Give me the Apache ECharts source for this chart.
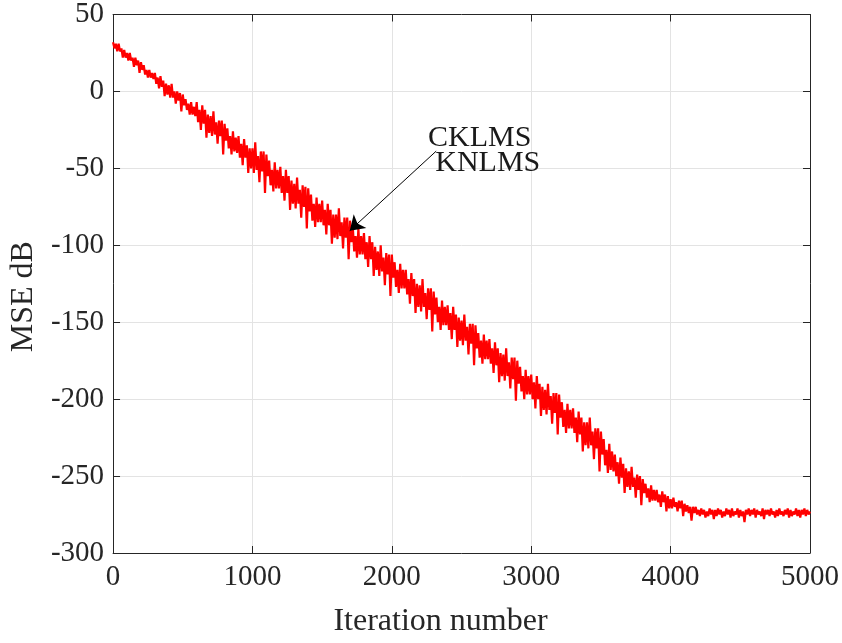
<!DOCTYPE html>
<html>
<head>
<meta charset="utf-8">
<script src="https://cdn.jsdelivr.net/npm/echarts@6/dist/echarts.min.js"></script>
<style>
html,body{margin:0;padding:0;background:#fff;overflow:hidden;width:100%;height:100%;}
#chart{width:842px;height:643px;}
</style>
</head>
<body>
<div id="chart"></div>
<script>
// ---- data ----
const iterationStep = 10; // one sample every 10 iterations
const xTicks = [0, 1000, 2000, 3000, 4000, 5000];
const yTicks = [-300, -250, -200, -150, -100, -50, 0, 50];
const mseDb = [
  32, 28, 31, 26, 31, 26, 28, 22, 27, 22,
  25, 20, 25, 20, 22, 16, 22, 17, 20, 12,
  19, 14, 17, 11, 14, 9, 14, 9, 12, 8,
  12, 5, 9, 2, 10, 3, 7, -3, 5, -2,
  4, -4, 5, -4, 0, -8, 0, -6, -1, -13,
  -2, -9, -5, -12, -8, -15, -7, -15, -10, -16,
  -7, -20, -12, -25, -9, -21, -12, -30, -15, -27,
  -16, -29, -13, -28, -20, -34, -19, -29, -19, -41,
  -21, -32, -24, -37, -29, -41, -26, -39, -30, -40,
  -29, -43, -34, -48, -31, -43, -35, -53, -37, -50,
  -37, -53, -33, -51, -42, -59, -39, -52, -39, -66,
  -41, -55, -45, -61, -51, -65, -46, -63, -51, -63,
  -49, -66, -55, -71, -51, -66, -55, -77, -58, -73,
  -60, -76, -56, -73, -64, -82, -61, -75, -62, -89,
  -63, -78, -67, -84, -73, -88, -69, -85, -73, -85,
  -71, -87, -77, -93, -73, -87, -77, -99, -80, -95,
  -80, -96, -76, -94, -85, -102, -82, -95, -82, -109,
  -84, -98, -88, -104, -94, -108, -89, -106, -94, -106,
  -92, -109, -98, -114, -94, -109, -98, -120, -101, -116,
  -104, -120, -100, -117, -108, -126, -105, -119, -106, -133,
  -106, -121, -111, -127, -116, -131, -112, -128, -116, -128,
  -116, -132, -122, -138, -118, -133, -122, -144, -125, -140,
  -126, -143, -122, -140, -131, -148, -128, -142, -128, -156,
  -130, -145, -134, -150, -140, -155, -136, -152, -140, -152,
  -139, -155, -144, -161, -140, -155, -145, -166, -147, -162,
  -149, -165, -145, -162, -153, -171, -151, -164, -151, -178,
  -152, -167, -157, -173, -162, -177, -158, -174, -162, -174,
  -161, -177, -167, -183, -163, -178, -167, -189, -170, -185,
  -171, -188, -167, -185, -176, -193, -173, -187, -173, -201,
  -175, -190, -179, -195, -185, -200, -181, -197, -185, -197,
  -184, -200, -189, -206, -185, -200, -190, -211, -192, -207,
  -194, -210, -190, -207, -198, -216, -196, -209, -196, -223,
  -197, -212, -202, -218, -207, -222, -203, -219, -207, -219,
  -206, -222, -212, -228, -208, -223, -212, -234, -215, -230,
  -215, -232, -212, -230, -221, -239, -219, -232, -219, -247,
  -221, -236, -226, -243, -233, -248, -229, -246, -234, -247,
  -236, -250, -241, -255, -238, -251, -242, -261, -245, -257,
  -247, -259, -244, -257, -251, -264, -249, -259, -250, -269,
  -252, -261, -255, -264, -258, -267, -256, -266, -259, -266,
  -259, -267, -262, -270, -260, -267, -262, -273, -263, -271,
  -265, -271, -264, -270, -267, -273, -266, -271, -266, -276,
  -268, -273, -269, -274, -270, -279, -270, -274, -270, -275,
  -272, -276, -271, -275, -272, -277, -273, -276, -271, -275,
  -272, -278, -272, -276, -271, -275, -272, -277, -273, -276,
  -271, -275, -272, -277, -271, -276, -273, -275, -271, -277,
  -272, -276, -273, -280, -272, -275, -271, -276, -272, -275,
  -271, -277, -272, -275, -273, -276, -271, -278, -272, -275,
  -272, -276, -271, -275, -273, -277, -272, -276, -271, -275,
  -273, -276, -272, -275, -271, -277, -272, -276, -273, -275,
  -271, -276, -272, -277, -272, -275, -271, -276, -272, -275,
  -273
];
const annotationLabels = ['CKLMS', 'KNLMS'];
const annotationPos = [[2631, -30.5], [2688, -46.8]];
const arrowFrom = [2318, -38.8];
const arrowTo = [1698, -90.5];

// ---- chart ----
const FONT = '"Liberation Serif", "Times New Roman", serif';
const TXT = '#262626';
const seriesData = mseDb.map((v, i) => [i * iterationStep, v]);

const chart = echarts.init(document.getElementById('chart'), null, {renderer: 'canvas'});
const axisCommon = {
  axisLine: {show: true, onZero: false, lineStyle: {color: TXT, width: 1}},
  axisTick: {show: true, inside: true, length: 7, lineStyle: {color: TXT}},
};
chart.setOption({
  animation: false,
  backgroundColor: '#fff',
  grid: {left: 108, right: 31, top: 12, bottom: 83, containLabel: false},
  xAxis: [{
    type: 'value', min: xTicks[0], max: xTicks[xTicks.length - 1], interval: 1000,
    position: 'bottom',
    ...axisCommon,
    axisLabel: {color: TXT, fontFamily: FONT, fontSize: 29, margin: 10, formatter: v => String(v)},
    splitLine: {show: true, lineStyle: {color: '#e3e3e3', width: 1}},
    name: 'Iteration number', nameLocation: 'middle', nameGap: 53,
    nameTextStyle: {color: TXT, fontFamily: FONT, fontSize: 32, padding: [0, 42, 0, 0]}
  }, {
    type: 'value', min: xTicks[0], max: xTicks[xTicks.length - 1], interval: 1000,
    position: 'top', ...axisCommon,
    axisLabel: {show: false}, splitLine: {show: false}
  }],
  yAxis: [{
    type: 'value', min: yTicks[0], max: yTicks[yTicks.length - 1], interval: 50,
    position: 'left',
    ...axisCommon,
    axisLabel: {color: TXT, fontFamily: FONT, fontSize: 29, margin: 9, formatter: v => String(v)},
    splitLine: {show: true, lineStyle: {color: '#e3e3e3', width: 1}},
    name: 'MSE dB', nameLocation: 'middle', nameGap: 70,
    nameTextStyle: {color: TXT, fontFamily: FONT, fontSize: 32, padding: [0, 26, 0, 0]}
  }, {
    type: 'value', min: yTicks[0], max: yTicks[yTicks.length - 1], interval: 50,
    position: 'right', ...axisCommon,
    axisLabel: {show: false}, splitLine: {show: false}
  }],
  series: [{
    name: 'MSE',
    type: 'line',
    data: seriesData,
    showSymbol: false,
    symbol: 'none',
    sampling: null,
    lineStyle: {color: '#ff0000', width: 2.2},
    z: 2
  }, {
    name: 'annotation',
    type: 'scatter',
    data: annotationPos.map((p, i) => [p[0], p[1], annotationLabels[i]]),
    symbolSize: 1,
    itemStyle: {color: 'rgba(0,0,0,0)'},
    label: {
      show: true, position: 'inside', formatter: p => p.value[2],
      color: '#1a1a1a', fontFamily: FONT, fontSize: 30,
      textBorderWidth: 0, textBorderColor: 'transparent', opacity: 1
    },
    markLine: {
      silent: true,
      symbol: ['none', 'arrow'],
      symbolSize: 14,
      label: {show: false},
      lineStyle: {color: '#000', width: 1, type: 'solid'},
      data: [[{coord: arrowFrom}, {coord: arrowTo}]]
    },
    z: 5
  }]
});
</script>
</body>
</html>
